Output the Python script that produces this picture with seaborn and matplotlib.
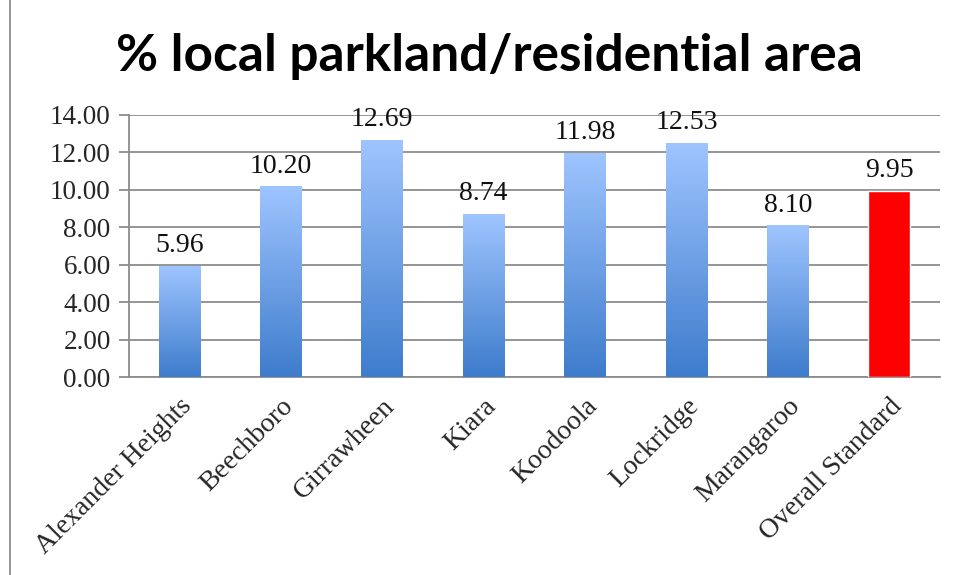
import numpy as np
import pandas as pd
import matplotlib
matplotlib.use("Agg")
import matplotlib.pyplot as plt
import seaborn as sns
from matplotlib.colors import LinearSegmentedColormap
from matplotlib.lines import Line2D

categories = ["Alexander Heights", "Beechboro", "Girrawheen", "Kiara", "Koodoola",
              "Lockridge", "Marangaroo", "Overall Standard"]
values = [5.96, 10.20, 12.69, 8.74, 11.98, 12.53, 8.10, 9.95]
title = "% local parkland/residential area"

sns.set_theme(style="white")
plt.rcParams['font.family'] = ['Liberation Serif', 'DejaVu Serif']

df = pd.DataFrame({"suburb": categories, "value": values})

fig = plt.figure(figsize=(9.61, 5.75), dpi=100)
ax = fig.add_axes([0.134, 0.344, 0.844, 0.456])

palette = ["#7aa9ea"] * 7 + ["#ff0000"]
sns.barplot(data=df, x="suburb", y="value", hue="suburb", palette=palette,
            legend=False, width=0.41, ax=ax, saturation=1, zorder=3)

ax.set_ylim(0, 14)
ax.set_xlim(-0.5, len(categories) - 0.5)
ax.set_yticks(np.arange(0, 14.01, 2))
ax.set_yticklabels([f"{v:.2f}" for v in np.arange(0, 14.01, 2)], fontsize=19.5)
ax.yaxis.grid(True, color="#8c8c8c", linewidth=1.3, zorder=0)
ax.set_axisbelow(True)

cmap = LinearSegmentedColormap.from_list("g", ["#3e7ccc", "#9fc5ff"])
grad = np.linspace(0, 1, 256).reshape(-1, 1)
for i, p in enumerate(ax.patches[:7]):
    x0, y0 = p.get_x(), p.get_y()
    w, h = p.get_width(), p.get_height()
    im = ax.imshow(grad, cmap=cmap, origin="lower", aspect="auto",
                   extent=[x0, x0 + w, y0, y0 + h], zorder=3)
    im.set_clip_path(p)
    p.set_facecolor("none")
    p.set_edgecolor("none")
ax.set_xlim(-0.5, len(categories) - 0.5)
ax.set_ylim(0, 14)

for i, v in enumerate(values):
    ax.text(i, v + 0.4, f"{v:.2f}", ha="center", va="bottom", fontsize=20, color="#111111")

ax.set_xticks(range(len(categories)))
ax.set_xticklabels(categories, rotation=45, ha="right", rotation_mode="anchor", fontsize=20)
ax.set_xlabel("")
ax.set_ylabel("")

for s in ["top", "right"]:
    ax.spines[s].set_visible(False)
for s in ["left", "bottom"]:
    ax.spines[s].set_color("#8c8c8c")
    ax.spines[s].set_linewidth(1.3)

# x ticks at category boundaries
ax.set_xticks(np.arange(-0.5, len(categories), 1), minor=True)
ax.tick_params(axis="x", which="major", length=0, pad=12)
ax.tick_params(axis="x", which="minor", length=7, color="#8c8c8c", width=1.3, direction="out")
ax.tick_params(axis="y", length=7, color="#8c8c8c", width=1.3, direction="out", left=True, pad=6)

fig.text(0.509, 0.902, title, ha="center", va="center", fontsize=37, fontweight="bold",
         family=["Lato", "DejaVu Sans"], color="black")

fig.add_artist(Line2D([0.0105, 0.0105], [0, 1], transform=fig.transFigure,
                      color="#8c8c8c", linewidth=1.3))

fig.savefig("out.png", dpi=100, facecolor="white")
